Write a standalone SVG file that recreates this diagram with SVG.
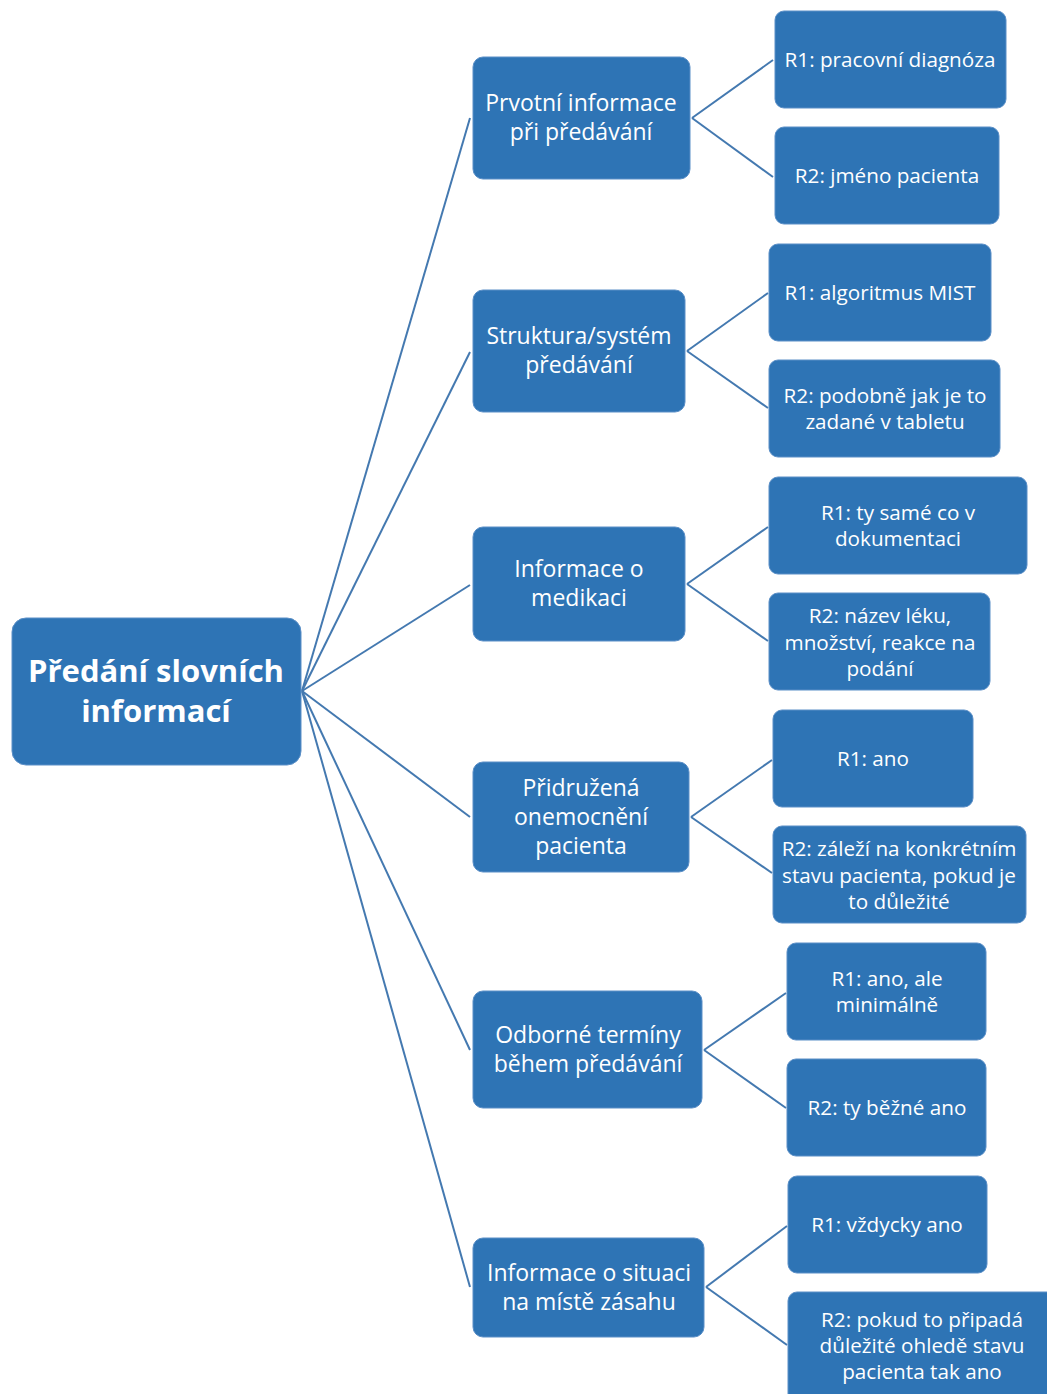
<svg xmlns="http://www.w3.org/2000/svg" width="1047" height="1394" viewBox="0 0 1047 1394">
<style>
.n{fill:#2E74B5;stroke:#5B8FC7;stroke-width:1}
text{font-family:"Open Sans","Noto Sans",sans-serif;fill:#fff;text-anchor:middle}
.r{font-size:31px;font-weight:bold}
.m{font-size:23px}
.l{font-size:20.7px}
.c line{stroke:#4479B0;stroke-width:2}
</style>
<rect width="1047" height="1394" fill="#fff"/>
<g class="c">
<line x1="302" y1="691" x2="470" y2="118"/>
<line x1="302" y1="691" x2="470" y2="352"/>
<line x1="302" y1="691" x2="470" y2="585"/>
<line x1="302" y1="691" x2="470" y2="817"/>
<line x1="302" y1="691" x2="470" y2="1050"/>
<line x1="302" y1="691" x2="470" y2="1287"/>
<line x1="692" y1="118" x2="773" y2="60"/>
<line x1="692" y1="118" x2="773" y2="177"/>
<line x1="687" y1="351" x2="768" y2="293"/>
<line x1="687" y1="351" x2="768" y2="408"/>
<line x1="687" y1="584" x2="768" y2="527"/>
<line x1="687" y1="584" x2="768" y2="641"/>
<line x1="691" y1="817" x2="772" y2="760"/>
<line x1="691" y1="817" x2="772" y2="873"/>
<line x1="704" y1="1050" x2="786" y2="993"/>
<line x1="704" y1="1050" x2="786" y2="1108"/>
<line x1="706" y1="1287" x2="787" y2="1226"/>
<line x1="706" y1="1287" x2="787" y2="1345"/>
</g>
<g id="root"><rect class="n" x="12" y="618" width="289" height="147" rx="14"/><text class="r" x="156" y="682">Předání slovních</text><text class="r" x="156" y="722">informací</text></g>
<g id="m1"><rect class="n" x="473" y="57" width="217" height="122" rx="10"/><text class="m" x="581" y="111">Prvotní informace</text><text class="m" x="581" y="140">při předávání</text></g>
<g id="m2"><rect class="n" x="473" y="290" width="212" height="122" rx="10"/><text class="m" x="579" y="344">Struktura/systém</text><text class="m" x="579" y="373">předávání</text></g>
<g id="m3"><rect class="n" x="473" y="527" width="212" height="114" rx="10"/><text class="m" x="579" y="577">Informace o</text><text class="m" x="579" y="606">medikaci</text></g>
<g id="m4"><rect class="n" x="473" y="762" width="216" height="110" rx="10"/><text class="m" x="581" y="796">Přidružená</text><text class="m" x="581" y="825">onemocnění</text><text class="m" x="581" y="854">pacienta</text></g>
<g id="m5"><rect class="n" x="473" y="991" width="229" height="117" rx="10"/><text class="m" x="588" y="1043">Odborné termíny</text><text class="m" x="588" y="1072">během předávání</text></g>
<g id="m6"><rect class="n" x="473" y="1238" width="231" height="99" rx="10"/><text class="m" x="589" y="1281">Informace o situaci</text><text class="m" x="589" y="1310">na místě zásahu</text></g>
<g id="l1a"><rect class="n" x="775" y="11" width="231" height="97" rx="9"/><text class="l" x="890" y="67">R1: pracovní diagnóza</text></g>
<g id="l1b"><rect class="n" x="775" y="127" width="224" height="97" rx="9"/><text class="l" x="887" y="183">R2: jméno pacienta</text></g>
<g id="l2a"><rect class="n" x="769" y="244" width="222" height="97" rx="9"/><text class="l" x="880" y="300">R1: algoritmus MIST</text></g>
<g id="l2b"><rect class="n" x="769" y="360" width="231" height="97" rx="9"/><text class="l" x="885" y="403">R2: podobně jak je to</text><text class="l" x="885" y="429">zadané v tabletu</text></g>
<g id="l3a"><rect class="n" x="769" y="477" width="258" height="97" rx="9"/><text class="l" x="898" y="520">R1: ty samé co v</text><text class="l" x="898" y="546">dokumentaci</text></g>
<g id="l3b"><rect class="n" x="769" y="593" width="221" height="97" rx="9"/><text class="l" x="880" y="623">R2: název léku,</text><text class="l" x="880" y="650">množství, reakce na</text><text class="l" x="880" y="676">podání</text></g>
<g id="l4a"><rect class="n" x="773" y="710" width="200" height="97" rx="9"/><text class="l" x="873" y="766">R1: ano</text></g>
<g id="l4b"><rect class="n" x="773" y="826" width="253" height="97" rx="9"/><text class="l" x="899" y="856">R2: záleží na konkrétním</text><text class="l" x="899" y="883">stavu pacienta, pokud je</text><text class="l" x="899" y="909">to důležité</text></g>
<g id="l5a"><rect class="n" x="787" y="943" width="199" height="97" rx="9"/><text class="l" x="887" y="986">R1: ano, ale</text><text class="l" x="887" y="1012">minimálně</text></g>
<g id="l5b"><rect class="n" x="787" y="1059" width="199" height="97" rx="9"/><text class="l" x="887" y="1115">R2: ty běžné ano</text></g>
<g id="l6a"><rect class="n" x="788" y="1176" width="199" height="97" rx="9"/><text class="l" x="887" y="1232">R1: vždycky ano</text></g>
<g id="l6b"><rect class="n" x="788" y="1292" width="275" height="120" rx="9"/><text class="l" x="922" y="1327">R2: pokud to připadá</text><text class="l" x="922" y="1353">důležité ohledě stavu</text><text class="l" x="922" y="1379">pacienta tak ano</text></g>
</svg>
